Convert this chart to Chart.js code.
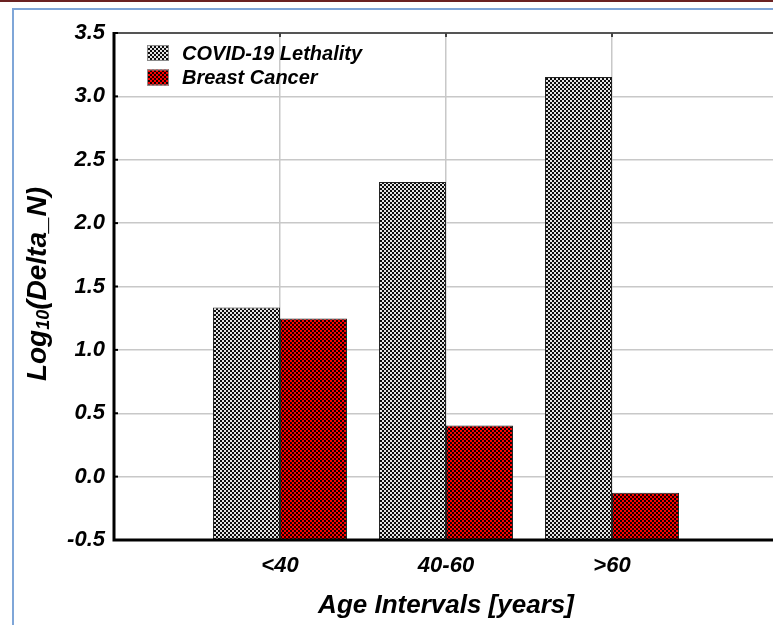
<!DOCTYPE html>
<html>
<head>
<meta charset="utf-8">
<script src="https://cdn.jsdelivr.net/npm/chart.js@4/dist/chart.umd.min.js"></script>
<style>
  html, body { margin: 0; padding: 0; background: #fff; overflow: hidden; width: 773px; height: 625px; }
  #topRule { position: absolute; left: 0; top: 0; width: 773px; height: 2px; background: #6b2222; }
  #frame { position: absolute; left: 12px; top: 8px; width: 820px; height: 700px;
           border-left: 2px solid #7fa6d8; border-top: 2px solid #7fa6d8; }
  #wrap { position: absolute; left: 0; top: 0; width: 800px; height: 625px; }
</style>
</head>
<body>
<div id="topRule"></div>
<div id="frame"></div>
<div id="wrap"><canvas id="c" width="800" height="625"></canvas></div>
<script>
// Age groups on the horizontal axis
const ageGroups = ['<40', '40-60', '>60'];
// log10 of Delta_N per age group
const covidLethality = [1.335, 2.325, 3.152];
const breastCancer = [1.248, 0.403, -0.127];
// Vertical axis ticks
const yTickValues = [-0.5, 0.0, 0.5, 1.0, 1.5, 2.0, 2.5, 3.0, 3.5];
const seriesNames = ['COVID-19 Lethality', 'Breast Cancer'];

const Y_MIN = yTickValues[0];
const Y_MAX = yTickValues[yTickValues.length - 1];
const FONT = '"Liberation Sans", Arial, sans-serif';

// Checkerboard fills for the bars
function checker(light, dark) {
  const c = document.createElement('canvas');
  c.width = 4; c.height = 4;
  const g = c.getContext('2d');
  g.fillStyle = light; g.fillRect(0, 0, 4, 4);
  g.fillStyle = dark; g.fillRect(0, 0, 2, 2); g.fillRect(2, 2, 2, 2);
  return g.createPattern(c, 'repeat');
}
const grayCheck = checker('#e4e4e4', '#0c0c0c');
const redCheck = checker('#ff0000', '#160000');

// Empty slot on each side of the groups
const labels = [''].concat(ageGroups, ['']);
const floating = vals => [null].concat(vals.map(v => [Y_MIN, v]), [null]);

const decor = {
  id: 'decor',
  afterDatasetsDraw(chart) {
    const { ctx, chartArea: a, scales } = chart;
    ctx.save();
    // top frame line
    ctx.strokeStyle = '#555';
    ctx.lineWidth = 2;
    ctx.beginPath(); ctx.moveTo(a.left, a.top); ctx.lineTo(a.right, a.top); ctx.stroke();
    // inward tick marks on left and top
    ctx.strokeStyle = '#000';
    ctx.lineWidth = 2;
    yTickValues.forEach(v => {
      const y = scales.y.getPixelForValue(v);
      ctx.beginPath(); ctx.moveTo(a.left, y); ctx.lineTo(a.left + 4, y); ctx.stroke();
    });
    ctx.strokeStyle = '#444';
    for (let i = 1; i <= ageGroups.length; i++) {
      const x = scales.x.getPixelForTick(i);
      ctx.beginPath(); ctx.moveTo(x, a.top); ctx.lineTo(x, a.top + 4); ctx.stroke();
    }
    // axis lines
    ctx.strokeStyle = '#000';
    ctx.lineWidth = 3;
    ctx.beginPath();
    ctx.moveTo(a.left, a.top - 1);
    ctx.lineTo(a.left, a.bottom);
    ctx.lineTo(a.right, a.bottom);
    ctx.stroke();
    ctx.restore();
  },
  afterDraw(chart) {
    const { ctx } = chart;
    ctx.save();
    // legend
    chart.data.datasets.forEach((d, i) => {
      const y = 45 + i * 24.5;
      ctx.fillStyle = d.backgroundColor;
      ctx.fillRect(147, y, 22, 16);
      ctx.strokeStyle = '#8a8a8a';
      ctx.lineWidth = 1;
      ctx.strokeRect(147.5, y + 0.5, 21, 15);
      ctx.fillStyle = '#000';
      ctx.font = 'italic bold 20px ' + FONT;
      ctx.textAlign = 'left';
      ctx.textBaseline = 'middle';
      ctx.fillText(d.label, 182, y + 9);
    });
    // vertical axis title with subscript
    ctx.translate(38, 284);
    ctx.rotate(-Math.PI / 2);
    const big = 'italic bold 28px ' + FONT;
    const small = 'italic bold 18px ' + FONT;
    const parts = [['Log', big, 0], ['10', small, 6], ['(Delta_N)', big, 0]];
    let total = 0;
    parts.forEach(p => { ctx.font = p[1]; total += ctx.measureText(p[0]).width; });
    let x = -total / 2;
    ctx.fillStyle = '#000';
    ctx.textAlign = 'left';
    ctx.textBaseline = 'middle';
    parts.forEach(p => {
      ctx.font = p[1];
      ctx.fillText(p[0], x, p[2]);
      x += ctx.measureText(p[0]).width;
    });
    ctx.restore();
  }
};

new Chart(document.getElementById('c'), {
  type: 'bar',
  data: {
    labels: labels,
    datasets: [
      { label: seriesNames[0], data: floating(covidLethality), backgroundColor: grayCheck,
        borderColor: '#222', borderWidth: 1, borderSkipped: false },
      { label: seriesNames[1], data: floating(breastCancer), backgroundColor: redCheck,
        borderColor: '#222', borderWidth: 1, borderSkipped: false }
    ]
  },
  options: {
    responsive: false,
    animation: false,
    devicePixelRatio: 1,
    categoryPercentage: 0.807,
    barPercentage: 1.0,
    layout: { padding: { top: 33, right: 22, left: 0, bottom: 0 } },
    plugins: { legend: { display: false }, tooltip: { enabled: false } },
    scales: {
      x: {
        offset: false,
        grid: { offset: false, color: '#c8c8c8', lineWidth: 1.5, drawTicks: false },
        border: { display: false },
        ticks: { color: '#000', padding: 13, font: { family: FONT, size: 22, weight: 'bold', style: 'italic' } },
        title: { display: true, text: 'Age Intervals [years]', color: '#000', padding: { top: 0, bottom: 4 },
                 font: { family: FONT, size: 26, weight: 'bold', style: 'italic' } },
        afterFit(s) { s.height = 85; }
      },
      y: {
        min: Y_MIN,
        max: Y_MAX,
        grid: { color: '#c8c8c8', lineWidth: 1.5, drawTicks: false },
        border: { display: false },
        afterBuildTicks(s) { s.ticks = yTickValues.map(v => ({ value: v })); },
        ticks: { color: '#000', padding: 9, callback: v => Number(v).toFixed(1),
                 font: { family: FONT, size: 22, weight: 'bold', style: 'italic' } },
        afterFit(s) { s.width = 114; }
      }
    }
  },
  plugins: [decor]
});
</script>
</body>
</html>
